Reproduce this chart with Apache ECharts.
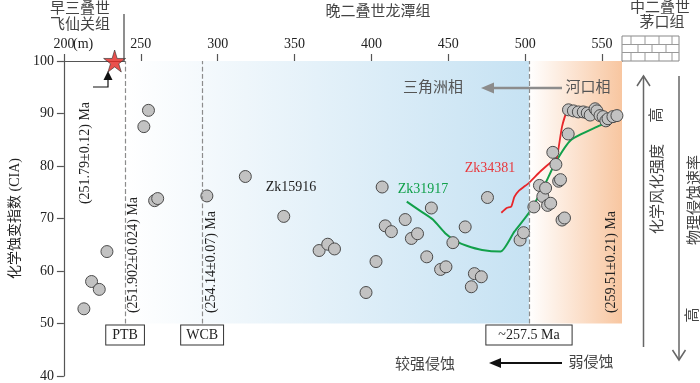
<!DOCTYPE html>
<html>
<head>
<meta charset="utf-8">
<script src="https://cdn.jsdelivr.net/npm/echarts@6/dist/echarts.min.js"></script>
<style>
html,body{margin:0;padding:0;background:#fff}
#chart{width:700px;height:383px}
</style>
</head>
<body>
<div id="chart"></div>
<script>
// 深度(m) / CIA
const ptsFeixianguan = [[213,52.8],[218,58],[223,56.5],[228,63.7]];
const ptsLongtan = [
  [252,87.5],[255,90.6],[259,73.4],[261,73.8],[293,74.3],[318,78],[343,70.4],
  [366,63.9],[371.6,65.1],[376,64.2],[396.5,55.9],[403,61.8],[407,76],[409,68.6],
  [413,67.5],[422,69.8],[426,66.2],[430,67.1],[436,62.7],[439,72],[445,60.3],
  [448.5,60.8],[453,65.4],[461,68.4],[465,57],[467,59.5],[471.5,58.9],[475.5,74],
  [496.7,65.9],[499,67.3],[505.7,72.2],[509.3,76.3],[511.5,74.2],[513.3,75.8],
  [514.6,72.5],[516.6,72.9],[518,82.6],[520,80.3],[521.8,77.1],[523,77.4],
  [524,69.7],[525.6,70.1],[528,86.1],[528.2,90.7],[531.4,90.5],[534.6,90.3],
  [537.8,90.3],[540.4,90.1],[542.3,89.7],[545.5,90.9],[546.7,90.5],[548.7,89.6],
  [550.7,89.4],[552.5,88.6],[553.9,89.0],[557.1,89.4],[559.7,89.6]
];
const lineZk31917 = [[423,73.2],[432,71.4],[440,69.8],[448,67.2],[455,65.7],[462,64.8],
  [472,64.0],[484,63.7],[493,67.5],[502.5,71.1],[512,76],[520,80.8],[530,85],[547,87.5],[563,89.6]];
const lineZk34381 = [[484.5,71.1],[488,72],[491,72.3],[493,74.1],[496,75.3],[502.5,76.8],
  [510,79],[518,81],[520.5,81.4],[524,87.5],[527.5,90.3],[537,90.1]];
const starPoint = [[233,100]];
const boundaryDepth = [239.8, 289.9, 502.5, 563];
const boundaryNames = ['PTB', 'WCB', '~257.5 Ma', 'GLB'];
const boundaryPad = [6, 5, 12, 7];

const FONT = "'Liberation Serif','Noto Sans CJK SC',serif";
const chart = echarts.init(document.getElementById('chart'));

function txt(x, y, s, opt) {
  opt = opt || {};
  return {
    type: 'text', x: x, y: y, rotation: opt.rot || 0, z: 100,
    style: {
      text: s, fill: opt.color || '#222', fontSize: opt.size || 14, fontFamily: FONT,
      align: opt.align || 'center', verticalAlign: 'middle'
    }
  };
}
function seg(x1, y1, x2, y2, color, w, dash) {
  return {type: 'line', z: 100, shape: {x1: x1, y1: y1, x2: x2, y2: y2},
    style: {stroke: color, lineWidth: w || 1, lineDash: dash || null}};
}
function tri(points, color) {
  return {type: 'polygon', z: 100, shape: {points: points}, style: {fill: color}};
}
function chevron(points, color) {
  return {type: 'polyline', z: 100, shape: {points: points}, style: {stroke: color, lineWidth: 1.5, fill: null}};
}

const up = Math.PI / 2;
const graphics = [
  txt(80, 9, '早三叠世', {color: '#444', size: 15}),
  txt(80, 25, '飞仙关组', {color: '#444', size: 15}),
  txt(378, 12, '晚二叠世龙潭组', {color: '#444', size: 15}),
  txt(660, 8, '中二叠世', {color: '#444', size: 15}),
  txt(662, 23, '茅口组', {color: '#444', size: 15}),
  txt(73, 44, '(m)', {align: 'left'}),
  seg(124, 14, 124, 61, '#444', 1.2),
  // star arrow
  {type: 'polyline', z: 100, shape: {points: [[93, 87], [108, 87], [108, 79]]}, style: {stroke: '#111', lineWidth: 1.2, fill: null}},
  tri([[103.5, 80], [112.5, 80], [108, 71]], '#111'),
  // ages
  txt(85, 153, '(251.79±0.12) Ma', {rot: up, size: 14}),
  txt(133, 255, '(251.902±0.024) Ma', {rot: up, size: 14}),
  txt(211, 262, '(254.14±0.07) Ma', {rot: up, size: 14}),
  txt(611, 262, '(259.51±0.21) Ma', {rot: up, size: 14}),
  // wells
  txt(291, 187, 'Zk15916', {size: 14}),
  txt(423, 189, 'Zk31917', {size: 14, color: '#10a04a'}),
  txt(490, 168, 'Zk34381', {size: 14, color: '#e8383d'}),
  // facies
  txt(433, 88, '三角洲相', {color: '#555', size: 15}),
  txt(588, 88, '河口相', {color: '#555', size: 15}),
  seg(562, 88, 490, 88, '#8c8c8c', 2.5),
  tri([[481, 88], [494, 82.5], [494, 93.5]], '#8c8c8c'),
  // erosion
  txt(425, 365, '较强侵蚀', {color: '#444', size: 15}),
  txt(591, 363, '弱侵蚀', {color: '#444', size: 15}),
  seg(562, 363, 497, 363, '#111', 2),
  tri([[489, 363], [501, 358], [501, 368]], '#111'),
  // right side
  seg(643.5, 347, 643.5, 76, '#666', 1.5),
  chevron([[637, 86], [643.5, 76], [650, 86]], '#666'),
  txt(657, 115, '高', {rot: up, color: '#444', size: 15}),
  txt(658, 189, '化学风化强度', {rot: up, color: '#444', size: 15}),
  seg(679, 76, 679, 360, '#666', 1.5),
  chevron([[672.5, 350], [679, 360], [685.5, 350]], '#666'),
  txt(695, 200, '物理侵蚀速率', {rot: up, color: '#444', size: 15}),
  txt(693, 315, '高', {rot: up, color: '#444', size: 15}),
  // limestone
  {type: 'rect', z: 100, shape: {x: 622, y: 36, width: 57, height: 25}, style: {fill: '#fff', stroke: '#888', lineWidth: 1}},
  seg(622, 44.5, 679, 44.5, '#999'), seg(622, 52.5, 679, 52.5, '#999')
];
[631, 645, 659, 672].forEach(function (x) { graphics.push(seg(x, 36, x, 44.5, '#999')); graphics.push(seg(x, 52.5, x, 61, '#999')); });
[638, 652, 666].forEach(function (x) { graphics.push(seg(x, 44.5, x, 52.5, '#999')); });

const blueGrad = {type: 'linear', x: 0, y: 0, x2: 1, y2: 0,
  colorStops: [{offset: 0, color: '#ffffff'}, {offset: 0.3, color: '#eef6fb'}, {offset: 1, color: '#c6e2f3'}]};
const orangeGrad = {type: 'linear', x: 0, y: 0, x2: 1, y2: 0,
  colorStops: [{offset: 0, color: '#ffffff'}, {offset: 1, color: '#f8c6a0'}]};

chart.setOption({
  animation: false,
  grid: {left: 56, top: 61, width: 566, height: 316},
  xAxis: {
    type: 'value', position: 'top', min: 200, max: 563, interval: 50,
    axisLine: {lineStyle: {color: '#555', width: 1.2}},
    axisTick: {length: 7, lineStyle: {color: '#555', width: 1.2}},
    axisLabel: {margin: 10, color: '#222', fontSize: 14, fontFamily: FONT,
      formatter: function (v) { return v % 50 === 0 ? String(v) : ''; }},
    splitLine: {show: false}
  },
  yAxis: {
    type: 'value', min: 40, max: 100, interval: 10,
    name: '化学蚀变指数 (CIA)', nameLocation: 'middle', nameGap: 37,
    nameTextStyle: {color: '#222', fontSize: 14, fontFamily: FONT},
    axisLine: {show: true, lineStyle: {color: '#555', width: 1.2}},
    axisTick: {length: 7, lineStyle: {color: '#555', width: 1.2}},
    axisLabel: {margin: 10, color: '#222', fontSize: 14, fontFamily: FONT},
    splitLine: {show: false}
  },
  graphic: graphics,
  series: [
    {
      type: 'line', data: [], z: 0, silent: true,
      markArea: {
        silent: true,
        data: [
          [{coord: [boundaryDepth[0], 50], itemStyle: {color: blueGrad}}, {coord: [boundaryDepth[2], 100]}],
          [{coord: [boundaryDepth[2], 50], itemStyle: {color: orangeGrad}}, {coord: [boundaryDepth[3], 100]}]
        ]
      }
    },
    {
      type: 'line', data: [], z: 1, silent: true, clip: false,
      markLine: {
        silent: true, symbol: ['none', 'none'],
        lineStyle: {color: '#8c8c8c', type: 'dashed', width: 1.2},
        label: {show: true, position: 'start', distance: 2, color: '#222', fontSize: 14, fontFamily: FONT,
          backgroundColor: '#fff', borderColor: '#333', borderWidth: 1,
          formatter: function (p) { return p.name; }},
        data: boundaryDepth.map(function (d, i) {
          return [{name: boundaryNames[i], coord: [d, 50], label: {padding: [3, boundaryPad[i], 2, boundaryPad[i]]}},
                  {coord: [d, i === 3 ? 109 : 100]}];
        })
      }
    },
    {
      type: 'line', data: lineZk31917, showSymbol: false, smooth: 0.2, z: 3,
      lineStyle: {color: '#12a04a', width: 2}
    },
    {
      type: 'line', data: lineZk34381, showSymbol: false, smooth: 0.15, z: 3,
      lineStyle: {color: '#e8262a', width: 1.8}
    },
    {
      type: 'scatter', data: ptsFeixianguan.concat(ptsLongtan), symbolSize: 12, z: 4,
      itemStyle: {color: '#c2c2c2', borderColor: '#4a4a4a', borderWidth: 1, opacity: 1}
    },
    {
      type: 'scatter', data: starPoint, clip: false, z: 5,
      symbol: 'path://M50,0 L61,35 L98,35 L68,57 L79,91 L50,70 L21,91 L32,57 L2,35 L39,35 Z',
      symbolSize: 22,
      itemStyle: {color: '#e52421', borderColor: '#333', borderWidth: 0.8}
    }
  ]
});
</script>
</body>
</html>
